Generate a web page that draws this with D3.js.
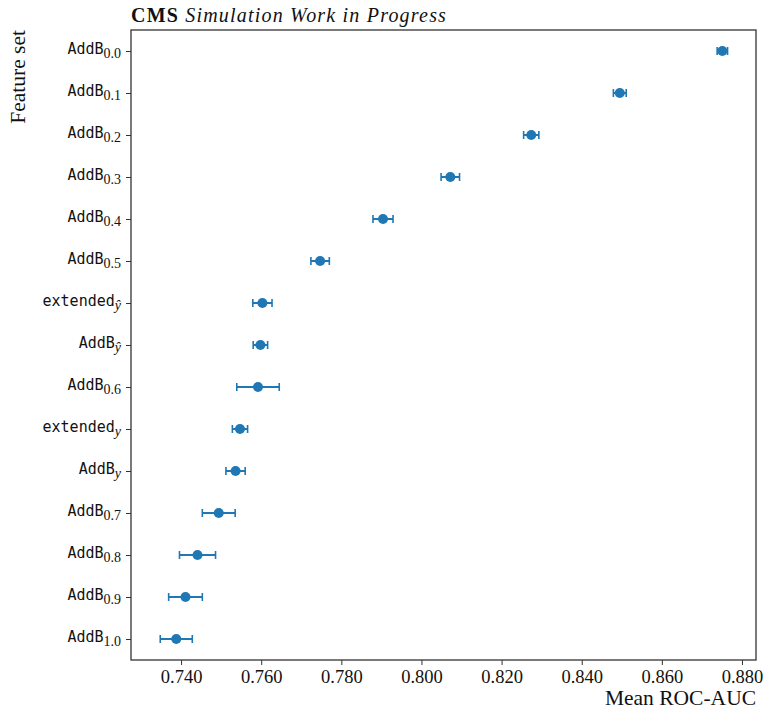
<!DOCTYPE html>
<html>
<head>
<meta charset="utf-8">
<script src="https://cdn.jsdelivr.net/npm/d3@7"></script>
<style>
  body { margin: 0; background: #fff; }
  text { fill: #111; }
</style>
</head>
<body>
<svg id="chart"></svg>
<script>
const width = 764;
const height = 710;

// feature sets, top to bottom, with their subscripts
const featureNames = ["AddB", "AddB", "AddB", "AddB", "AddB", "AddB", "extended", "AddB",
  "AddB", "extended", "AddB", "AddB", "AddB", "AddB", "AddB"];
const featureSubs = ["0.0", "0.1", "0.2", "0.3", "0.4", "0.5", "ŷ", "ŷ",
  "0.6", "y", "y", "0.7", "0.8", "0.9", "1.0"];
const meanAuc = [0.8751, 0.8495, 0.8274, 0.8072, 0.7904, 0.7747, 0.7603, 0.7598,
  0.7592, 0.7547, 0.7536, 0.7494, 0.7441, 0.7411, 0.7388];
const errAuc = [0.0013, 0.0016, 0.0019, 0.0023, 0.0025, 0.0023, 0.0024, 0.0018,
  0.0053, 0.0019, 0.0024, 0.0041, 0.0045, 0.0042, 0.0040];
const xTicks = [0.74, 0.76, 0.78, 0.80, 0.82, 0.84, 0.86, 0.88];

const margin = { top: 30, right: 8, bottom: 50, left: 131 };
const color = "#1f77b4";
const serif = "'Liberation Serif', 'DejaVu Serif', serif";
const mono = "'DejaVu Sans Mono', 'Liberation Mono', monospace";

const svg = d3.select("#chart").attr("width", width).attr("height", height);

const x = d3.scaleLinear()
  .domain([0.7275, 0.8835])
  .range([margin.left, width - margin.right]);

const y = d3.scalePoint()
  .domain(d3.range(meanAuc.length))
  .range([margin.top, height - margin.bottom])
  .padding(0.5);

// x axis
const xAxis = svg.append("g")
  .attr("transform", `translate(0,${height - margin.bottom})`)
  .call(d3.axisBottom(x).tickValues(xTicks).tickFormat(d3.format(".3f")).tickSize(5).tickPadding(5));
xAxis.selectAll("text").attr("font-family", serif).attr("font-size", 18.5);

// y axis with custom labels
const yAxis = svg.append("g")
  .attr("transform", `translate(${margin.left},0)`)
  .call(d3.axisLeft(y).tickSize(5).tickFormat(""));
yAxis.selectAll(".tick").each(function (d) {
  const t = d3.select(this).append("text")
    .attr("x", -10)
    .attr("dy", "0.25em")
    .attr("text-anchor", "end")
    .attr("fill", "#111");
  t.append("tspan").attr("font-family", mono).attr("font-size", 15).text(featureNames[d]);
  t.append("tspan").attr("font-family", serif).attr("font-size", 14)
    .attr("font-style", /[0-9]/.test(featureSubs[d]) ? "normal" : "italic")
    .attr("dy", "0.3em").text(featureSubs[d]);
});

[xAxis, yAxis].forEach(a => {
  a.select(".domain").remove();
  a.selectAll(".tick line").attr("stroke", "#333").attr("stroke-width", 1);
});

// frame
svg.append("rect")
  .attr("x", margin.left).attr("y", margin.top)
  .attr("width", width - margin.left - margin.right)
  .attr("height", height - margin.top - margin.bottom)
  .attr("fill", "none").attr("stroke", "#333").attr("stroke-width", 1.3);

// error bars
const rows = meanAuc.map((m, i) => ({ i, m, e: errAuc[i] }));
const g = svg.append("g");
g.selectAll(".err").data(rows).join("line")
  .attr("x1", d => x(d.m - d.e)).attr("x2", d => x(d.m + d.e))
  .attr("y1", d => y(d.i)).attr("y2", d => y(d.i))
  .attr("stroke", color).attr("stroke-width", 2);
["lo", "hi"].forEach(side => {
  g.selectAll(".cap-" + side).data(rows).join("line")
    .attr("x1", d => x(side === "lo" ? d.m - d.e : d.m + d.e))
    .attr("x2", d => x(side === "lo" ? d.m - d.e : d.m + d.e))
    .attr("y1", d => y(d.i) - 4).attr("y2", d => y(d.i) + 4)
    .attr("stroke", color).attr("stroke-width", 1.6);
});
g.selectAll("circle").data(rows).join("circle")
  .attr("cx", d => x(d.m)).attr("cy", d => y(d.i))
  .attr("r", 5).attr("fill", color);

// title
const title = svg.append("text")
  .attr("x", margin.left).attr("y", 22)
  .attr("font-family", serif).attr("font-size", 20)
  .attr("letter-spacing", 1.2);
title.append("tspan").attr("font-weight", "bold").text("CMS");
title.append("tspan").attr("font-style", "italic").text(" Simulation Work in Progress");

// axis titles
svg.append("text")
  .attr("x", width - margin.right).attr("y", 705)
  .attr("text-anchor", "end")
  .attr("font-family", serif).attr("font-size", 21.5)
  .text("Mean ROC-AUC");

svg.append("text")
  .attr("transform", `translate(25,${margin.top}) rotate(-90)`)
  .attr("text-anchor", "end")
  .attr("font-family", serif).attr("font-size", 21.5)
  .text("Feature set");
</script>
</body>
</html>
